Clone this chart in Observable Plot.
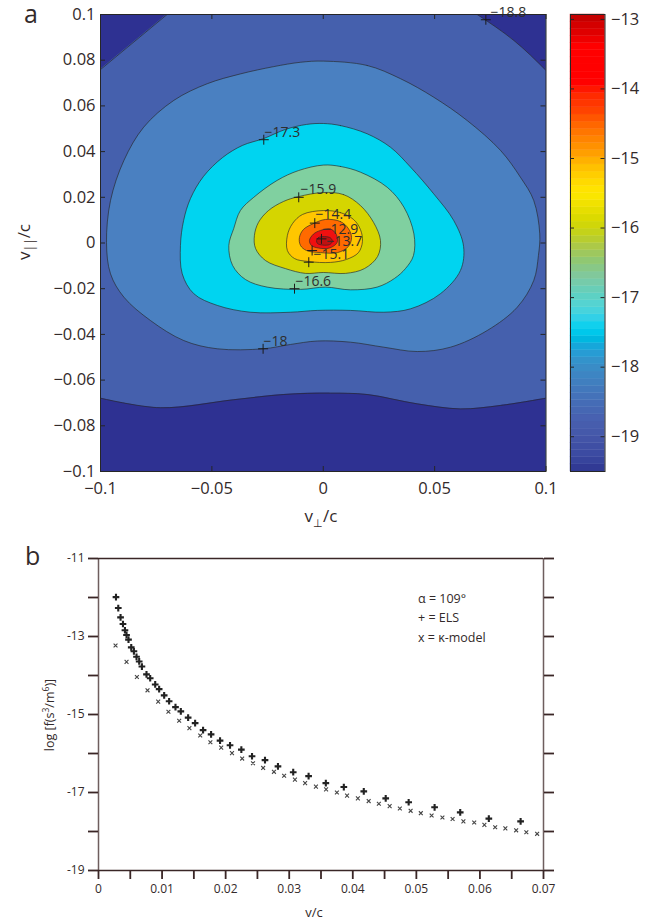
<!DOCTYPE html>
<html><head><meta charset="utf-8">
<script src="https://cdn.jsdelivr.net/npm/d3@7"></script>
<script src="https://cdn.jsdelivr.net/npm/@observablehq/plot@0.6"></script>
<style>
body{margin:0;background:#fff;}
#fig{position:relative;width:647px;height:922px;font-family:"Open Sans",sans-serif;}
#fig svg{position:absolute;overflow:visible;}
</style></head><body><div id="fig"></div>
<script>
// ---------- panel a : contour data (v_perp/c, v_par/c) ----------
const vPerpTicks = [-0.1, -0.05, 0, 0.05, 0.1];
const vParTicks = [-0.1, -0.08, -0.06, -0.04, -0.02, 0, 0.02, 0.04, 0.06, 0.08, 0.1];
const levelColors = ["#2e3192", "#4560ad", "#4a80c1", "#00d4f0", "#80d0a0", "#d5d500", "#ffc600", "#ff6a00", "#f01010", "#c01010"];
// -18.8 contour pieces
const c188TopLeft = [[-0.1, 0.0759], [-0.0701, 0.1]];
const c188TopRight = [[0.0691, 0.1], [0.0856, 0.0886], [0.1, 0.0755]];
const c188Bottom = [[-0.1, -0.0679], [-0.0731, -0.0721], [-0.0402, -0.0686], [-0.0177, -0.0663], [0.0033, -0.0657], [0.0197, -0.0663], [0.0422, -0.0704], [0.0616, -0.0726], [0.0796, -0.0711], [0.1, -0.0679]];
const c180 = [[0, 0.0796], [0.0197, 0.0777], [0.0347, 0.0719], [0.0496, 0.0638], [0.0646, 0.0536], [0.0796, 0.0405], [0.0885, 0.0288], [0.0945, 0.0186], [0.0972, 0.004], [0.0966, -0.0055], [0.0945, -0.0164], [0.0871, -0.0281], [0.0736, -0.0383], [0.0571, -0.0456], [0.0422, -0.0475], [0.0272, -0.0456], [0.0122, -0.0434], [-0.0027, -0.0429], [-0.0147, -0.0444], [-0.027, -0.0463], [-0.0476, -0.0463], [-0.0626, -0.0427], [-0.0776, -0.0339], [-0.0895, -0.0237], [-0.0955, -0.0135], [-0.0973, 0.0001], [-0.0955, 0.0186], [-0.0895, 0.0361], [-0.0806, 0.0507], [-0.0671, 0.0624], [-0.0521, 0.0697], [-0.0372, 0.074], [-0.0222, 0.0772], [-0.0102, 0.0791]];
const c173 = [[0, 0.0523], [0.0077, 0.0514], [0.0197, 0.0478], [0.0302, 0.0419], [0.0392, 0.0332], [0.0496, 0.0215], [0.0586, 0.0098], [0.063, -0.0015], [0.0616, -0.012], [0.0526, -0.0222], [0.0392, -0.0288], [0.0272, -0.0303], [0.0122, -0.0295], [-0.0027, -0.0295], [-0.0147, -0.0303], [-0.0327, -0.0303], [-0.0476, -0.0273], [-0.0581, -0.0222], [-0.0633, -0.0135], [-0.0641, -0.0011], [-0.0627, 0.0098], [-0.0596, 0.0195], [-0.0538, 0.0291], [-0.0452, 0.0374], [-0.0363, 0.0427], [-0.0268, 0.0457], [-0.017, 0.0497], [-0.0075, 0.0519]];
const c166 = [[0, 0.0341], [0.0077, 0.0335], [0.0167, 0.031], [0.0287, 0.0244], [0.0362, 0.0157], [0.0407, 0.004], [0.0405, -0.0055], [0.0369, -0.0112], [0.032, -0.0155], [0.0242, -0.0193], [0.0122, -0.0205], [0.001, -0.0193], [-0.0102, -0.0203], [-0.0252, -0.0193], [-0.0349, -0.016], [-0.0407, -0.0098], [-0.0424, -0.0011], [-0.0402, 0.0063], [-0.0372, 0.0142], [-0.0312, 0.02], [-0.0207, 0.0274], [-0.0111, 0.0317]];
const c159 = [[0, 0.0221], [0.0091, 0.0212], [0.0167, 0.0164], [0.0226, 0.009], [0.0257, 0.0011], [0.0244, -0.0059], [0.0185, -0.0112], [0.01, -0.0133], [0, -0.0129], [-0.008, -0.0133], [-0.017, -0.0112], [-0.0259, -0.0077], [-0.0304, -0.0024], [-0.0309, 0.0033], [-0.0291, 0.009], [-0.0246, 0.0142], [-0.0178, 0.0182], [-0.0111, 0.0203]];
const c151 = [[0, 0.0142], [0.0077, 0.0133], [0.0136, 0.0103], [0.0167, 0.0059], [0.0176, 0.0007], [0.0158, -0.0042], [0.0104, -0.0072], [0.0033, -0.0085], [-0.0066, -0.0081], [-0.0129, -0.0068], [-0.0161, -0.0033], [-0.0161, 0.0033], [-0.0138, 0.0085], [-0.0093, 0.0125]];
const c144 = [[0.001, 0.0103], [0.0077, 0.0094], [0.0113, 0.0063], [0.0127, 0.0024], [0.0113, -0.0015], [0.0064, -0.0042], [-0.0012, -0.0042], [-0.0075, -0.0033], [-0.0102, -0.0011], [-0.0107, 0.0024], [-0.0089, 0.0059], [-0.0044, 0.0085]];
const c137 = [[-0.0012, 0.0055], [0.0033, 0.0061], [0.0059, 0.0037], [0.0062, 0.0002], [0.0028, -0.0022], [-0.0021, -0.0022], [-0.0053, -0.0011], [-0.0062, 0.0011], [-0.0044, 0.0039]];
const c129 = [[-0.003, 0.0011], [-0.0021, 0.0024], [0.0006, 0.0028], [0.0033, 0.0022], [0.0041, 0.0007], [0.0028, -0.0007], [-0.0003, -0.0009], [-0.0026, -0.0002]];
const labelMarks = [[0.073, 0.0977], [-0.0267, 0.0452], [-0.011, 0.02], [-0.0038, 0.0087], [-0.0008, 0.0018], [-0.005, -0.0033], [-0.0065, -0.0084], [-0.0129, -0.02], [-0.027, -0.0463]];
const labelTexts = [[0.0751, 0.0987, "\u221218.8"], [-0.0264, 0.0466, "\u221217.3"], [-0.0102, 0.0215, "\u221215.9"], [-0.0035, 0.0103, "\u221214.4"], [-0.0003, 0.004, "\u221212.9"], [0.0015, -0.0011, "\u221213.7"], [-0.0044, -0.0068, "\u221215.1"], [-0.0125, -0.0186, "\u221216.6"], [-0.0268, -0.0449, "\u221218"]];
// colorbar
const cbTicks = [-19, -18, -17, -16, -15, -14, -13];
const cbRange = [-19.5, -12.93];
const cmapVals = [-19.5, -19.3, -19.0, -18.75, -18.45, -18.2, -17.95, -17.75, -17.6, -17.45, -17.3, -17.15, -16.95, -16.7, -16.5, -16.3, -16.1, -15.9, -15.7, -15.5, -15.3, -15.1, -14.9, -14.65, -14.45, -14.3, -14.1, -13.9, -13.4, -13.2, -13.0, -12.93];
const cmapCols = ["#2e3590", "#3a48a0", "#4456a8", "#4860b0", "#4470b8", "#4080c0", "#3890c8", "#20a0d8", "#00b8e0", "#00d0f0", "#30d0e8", "#50d4d8", "#60d0c0", "#80c8a0", "#8cc878", "#a8c850", "#c0d020", "#d6d800", "#ece000", "#ffe800", "#ffd600", "#ffbc00", "#ff9a00", "#ff7a00", "#ff5c00", "#ff4000", "#ff2a00", "#ff0000", "#ff0000", "#e00000", "#cc0000", "#b00000"];

// ---------- panel b : data ----------
const vTicks = [0, 0.005, 0.01, 0.015, 0.02, 0.025, 0.03, 0.035, 0.04, 0.045, 0.05, 0.055, 0.06, 0.065, 0.07];
const logTicks = [-19, -18, -17, -16, -15, -14, -13, -12, -11];
const elsV = [0.00275, 0.00311, 0.00347, 0.00385, 0.00416, 0.00441, 0.00472, 0.00515, 0.00557, 0.00598, 0.0064, 0.00683, 0.00755, 0.00813, 0.00892, 0.00954, 0.01033, 0.01111, 0.01211, 0.01295, 0.0141, 0.0152, 0.01645, 0.01771, 0.01912, 0.02069, 0.02247, 0.02415, 0.02619, 0.02823, 0.03063, 0.03305, 0.03576, 0.03859, 0.04173, 0.04518, 0.04879, 0.05287, 0.0569, 0.0614, 0.0664];
const elsF = [-11.99, -12.27, -12.51, -12.68, -12.84, -12.96, -13.08, -13.28, -13.38, -13.52, -13.64, -13.77, -13.97, -14.07, -14.23, -14.35, -14.51, -14.66, -14.81, -14.92, -15.08, -15.22, -15.4, -15.51, -15.67, -15.79, -15.9, -16.07, -16.17, -16.33, -16.48, -16.58, -16.76, -16.86, -16.97, -17.15, -17.25, -17.38, -17.51, -17.67, -17.74];
const kapV = [0.00268, 0.00441, 0.00604, 0.00771, 0.00939, 0.011, 0.01269, 0.0143, 0.016, 0.0176, 0.0193, 0.021, 0.0226, 0.0243, 0.0259, 0.0276, 0.0292, 0.0309, 0.0325, 0.0342, 0.0358, 0.0375, 0.0391, 0.0408, 0.0425, 0.0441, 0.0458, 0.0474, 0.0491, 0.0507, 0.0524, 0.0541, 0.0557, 0.0574, 0.0591, 0.0607, 0.0624, 0.064, 0.0657, 0.0673, 0.069];
const kapF = [-13.23, -13.65, -14.04, -14.38, -14.67, -14.93, -15.16, -15.35, -15.54, -15.71, -15.85, -15.99, -16.13, -16.25, -16.37, -16.47, -16.57, -16.67, -16.76, -16.85, -16.92, -17.0, -17.08, -17.15, -17.22, -17.29, -17.35, -17.41, -17.47, -17.53, -17.59, -17.64, -17.68, -17.74, -17.77, -17.83, -17.89, -17.92, -17.97, -18.02, -18.06];
const legendLines = ["\u03b1 = 109\u00b0", "+ = ELS", "x = \u03ba-model"];

// ---------- drawing ----------
const fig = document.getElementById("fig");
const FONT = "'Open Sans', sans-serif";
const INK = "#332a2a";
const LINE = "#262626";
const fmtMinus = d => (d < 0 ? "\u2212" : "") + Math.abs(d);
const PX = d => d[0], PY = d => d[1];
function place(svg, left, topPx) { svg.style.left = left + "px"; svg.style.top = topPx + "px"; fig.appendChild(svg); }

const closedContours = [c180, c173, c166, c159, c151, c144, c137, c129];
const lineStyle = {stroke: LINE, strokeWidth: 0.75, strokeOpacity: 0.85};

const plotA = Plot.plot({
  width: 550, height: 530, marginLeft: 100, marginRight: 4.5, marginTop: 14, marginBottom: 59,
  x: {domain: [-0.1, 0.1], label: null},
  y: {domain: [-0.1, 0.1], label: null},
  style: {fontFamily: FONT, fontSize: "16px", color: INK, background: "transparent"},
  marks: [
    Plot.frame({fill: levelColors[1]}),
    Plot.areaY(c188Bottom, {x: PX, y1: -0.1, y2: PY, fill: levelColors[0], curve: "catmull-rom", clip: true}),
    Plot.areaY(c188TopLeft, {x: PX, y1: PY, y2: 0.1, fill: levelColors[0], clip: true}),
    Plot.areaY(c188TopRight, {x: PX, y1: PY, y2: 0.1, fill: levelColors[0], curve: "natural", clip: true}),
    Plot.line(c188Bottom, {x: PX, y: PY, curve: "catmull-rom", clip: true, ...lineStyle}),
    Plot.line(c188TopLeft, {x: PX, y: PY, clip: true, ...lineStyle}),
    Plot.line(c188TopRight, {x: PX, y: PY, curve: "natural", clip: true, ...lineStyle}),
    ...closedContours.map((pts, i) => Plot.line(pts, {x: PX, y: PY, fill: levelColors[i + 2], curve: "catmull-rom-closed", clip: true, ...lineStyle})),
    Plot.dot(labelMarks, {x: PX, y: PY, symbol: "plus", r: 3.3, stroke: "#1a1a1a", strokeWidth: 1}),
    Plot.text(labelTexts, {x: PX, y: PY, text: d => d[2], textAnchor: "start", lineAnchor: "bottom", fontSize: 14, fill: "#2e2e2e"}),
    Plot.frame({stroke: LINE, strokeWidth: 1}),
    Plot.tickX(vPerpTicks, {x: d => d, insetTop: 452, stroke: LINE}),
    Plot.tickX(vPerpTicks, {x: d => d, insetBottom: 452, stroke: LINE}),
    Plot.tickY(vParTicks, {y: d => d, insetRight: 440.5, stroke: LINE}),
    Plot.tickY(vParTicks, {y: d => d, insetLeft: 440.5, stroke: LINE}),
    Plot.axisX(vPerpTicks, {tickSize: 0, tickPadding: 11, tickFormat: fmtMinus, fontSize: 16.5}),
    Plot.axisY(vParTicks, {tickSize: 0, tickPadding: 5, tickFormat: fmtMinus, fontSize: 16.5})
  ]
});
place(plotA, 0, 0);

const step = (cbRange[1] - cbRange[0]) / 64;
const cbBands = d3.range(64).map(i => cbRange[0] + i * step);
const cbar = Plot.plot({
  width: 78, height: 530, marginLeft: 1, marginRight: 42.5, marginTop: 14, marginBottom: 59,
  x: {domain: [0, 1], axis: null},
  y: {domain: cbRange, label: null},
  color: {type: "linear", domain: cmapVals, range: cmapCols, interpolate: "rgb"},
  style: {fontFamily: FONT, fontSize: "16.5px", color: INK, background: "transparent"},
  marks: [
    Plot.rect(cbBands, {x1: 0, x2: 1, y1: d => d, y2: d => d + step, fill: d => d + step / 2, stroke: d => d + step / 2, strokeWidth: 0.4}),
    Plot.frame({stroke: LINE}),
    Plot.tickY(cbTicks, {y: d => d, insetRight: 30.5, stroke: LINE}),
    Plot.tickY(cbTicks, {y: d => d, insetLeft: 30.5, stroke: LINE}),
    Plot.axisY(cbTicks, {anchor: "right", tickSize: 0, tickPadding: 6, tickFormat: fmtMinus, fontSize: 16.5})
  ]
});
place(cbar, 569, 0);

const idx = d3.range(elsV.length);
const idk = d3.range(kapV.length);
const plotB = Plot.plot({
  width: 647, height: 382, marginLeft: 98, marginRight: 104, marginTop: 18, marginBottom: 52,
  x: {domain: [0, 0.07], label: null},
  y: {domain: [-19, -11], label: null},
  style: {fontFamily: FONT, fontSize: "12px", color: INK, background: "transparent"},
  marks: [
    Plot.ruleX([0], {stroke: "#6e5e5e", strokeWidth: 1.5}),
    Plot.ruleX([0.07], {stroke: "#6e5e5e", strokeWidth: 1.5}),
    Plot.ruleY([-11], {stroke: "#3a2626", strokeWidth: 1.5}),
    Plot.ruleY([-19], {stroke: "#3a2626", strokeWidth: 1.5}),
    Plot.axisY(logTicks, {tickSize: 10, tickPadding: 4, stroke: "#3a2626", strokeWidth: 1.8, tickFormat: d => (d % 2 ? String(d) : ""), fontSize: 12}),
    Plot.axisY(logTicks, {anchor: "right", tickSize: 10, stroke: "#3a2626", strokeWidth: 1.8, tickFormat: () => ""}),
    Plot.axisX(vTicks, {tickSize: 9, tickPadding: 5, stroke: "#3a2626", strokeWidth: 1.8, tickFormat: d => (Math.round(d * 1000) % 10 === 0 ? String(+d.toFixed(2)) : ""), fontSize: 12}),
    Plot.dot(idk, {x: i => kapV[i], y: i => kapF[i], symbol: "times", r: 1.9, stroke: "#444", strokeWidth: 1.1}),
    Plot.dot(idx, {x: i => elsV[i], y: i => elsF[i], symbol: "plus", r: 2.3, stroke: "#222", strokeWidth: 2.1})
  ]
});
place(plotB, 0, 540);

// ---------- text overlay ----------
const ov = d3.select(fig).append("svg").attr("width", 647).attr("height", 922)
  .style("left", "0px").style("top", "0px").style("pointer-events", "none")
  .attr("font-family", FONT).attr("fill", INK);
ov.append("text").attr("x", 24).attr("y", 23).attr("font-size", 25).text("a");
ov.append("text").attr("x", 25).attr("y", 565).attr("font-size", 25).text("b");
const yl = ov.append("text").attr("transform", "translate(30,242) rotate(-90)").attr("text-anchor", "middle").attr("font-size", 17);
yl.append("tspan").text("v");
yl.append("tspan").attr("dy", 4).attr("font-size", 12).text("||");
yl.append("tspan").attr("dy", -4).text("/c");
const xl = ov.append("text").attr("x", 321).attr("y", 522).attr("text-anchor", "middle").attr("font-size", 17);
xl.append("tspan").text("v");
xl.append("tspan").attr("dy", 5).attr("font-size", 11).text("\u22a5");
xl.append("tspan").attr("dy", -5).text("/c");
ov.append("text").attr("x", 314).attr("y", 917).attr("text-anchor", "middle").attr("font-size", 13).text("v/c");
const bl = ov.append("text").attr("transform", "translate(54,715) rotate(-90)").attr("text-anchor", "middle").attr("font-size", 12.5);
bl.append("tspan").text("log [f(s");
bl.append("tspan").attr("dy", -5).attr("font-size", 8.5).text("3");
bl.append("tspan").attr("dy", 5).text("/m");
bl.append("tspan").attr("dy", -5).attr("font-size", 8.5).text("6");
bl.append("tspan").attr("dy", 5).text(")]");
legendLines.forEach((t, i) => ov.append("text").attr("x", 418).attr("y", 603 + i * 19.3).attr("font-size", 12.5).text(t));
</script></body></html>
